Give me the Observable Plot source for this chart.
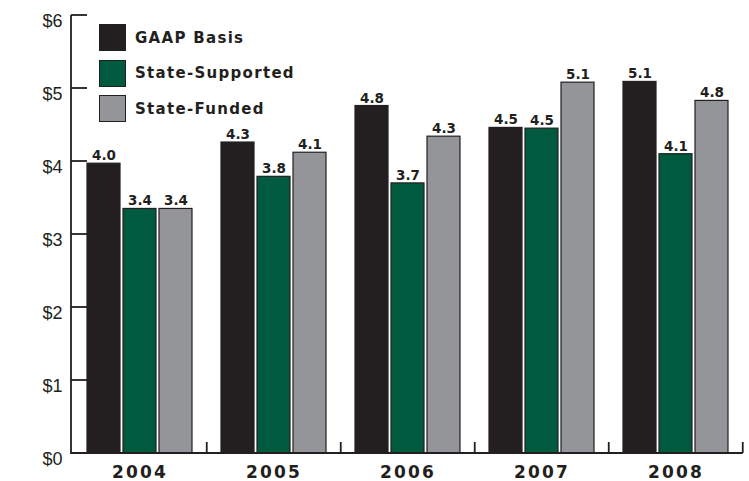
<!DOCTYPE html>
<html><head><meta charset="utf-8">
<script src="https://cdn.jsdelivr.net/npm/d3@7"></script>
<script src="https://cdn.jsdelivr.net/npm/@observablehq/plot@0.6"></script>
<style>
body{margin:0;background:#fff;}
#wrap{position:relative;width:749px;height:481px;}
#legend{position:absolute;left:99px;top:24px;font-family:"DejaVu Sans",sans-serif;font-weight:bold;font-size:15px;color:#231f20;letter-spacing:1.3px;}
.item{display:flex;align-items:center;height:27px;margin-bottom:8.5px;}
.sw{width:25px;height:25px;border:1px solid #231f20;margin-right:9px;box-sizing:content-box;}
g[aria-label="value labels"] text{letter-spacing:2px;}
g[aria-label="fx-axis tick label"] text{letter-spacing:2.2px;}
</style></head><body>
<div id="wrap"><div id="chart"></div><div id="legend"></div></div>
<script>
const years = ["2004", "2005", "2006", "2007", "2008"];
const seriesNames = ["GAAP Basis", "State-Supported", "State-Funded"];
const seriesColors = ["#231f20", "#005a3e", "#939598"];
const gaap = [3.97, 4.26, 4.76, 4.46, 5.09];
const stateSupported = [3.35, 3.79, 3.70, 4.45, 4.10];
const stateFunded = [3.35, 4.12, 4.34, 5.08, 4.83];
const gaapLabels = ["4.0", "4.3", "4.8", "4.5", "5.1"];
const stateSupportedLabels = ["3.4", "3.8", "3.7", "4.5", "4.1"];
const stateFundedLabels = ["3.4", "4.1", "4.3", "5.1", "4.8"];
const yTicks = [0, 1, 2, 3, 4, 5, 6];

const ink = "#231f20";
const seriesValues = [gaap, stateSupported, stateFunded];
const seriesLabels = [gaapLabels, stateSupportedLabels, stateFundedLabels];
const data = years.flatMap((yr, i) => seriesNames.map((s, k) => ({
  year: yr, series: s, value: seriesValues[k][i], label: seriesLabels[k][i]
})));

const chart = Plot.plot({
  width: 749, height: 481,
  marginLeft: 72, marginRight: 6.5, marginTop: 15, marginBottom: 28,
  fx: {domain: years, paddingInner: 0.22, paddingOuter: 0.11, label: null},
  x: {domain: seriesNames, paddingInner: 0.09, paddingOuter: 0, axis: null},
  y: {domain: [0, 6], axis: null},
  color: {domain: seriesNames, range: seriesColors},
  style: {fontFamily: "DejaVu Sans, sans-serif", color: ink, background: "#fff"},
  marks: [
    Plot.barY(data, {fx: "year", x: "series", y: "value", fill: "series", stroke: ink, strokeWidth: 1.2}),
    Plot.text(data, {fx: "year", x: "series", y: "value", text: "label", lineAnchor: "bottom", dy: -3.5,
      fontSize: 13.5, fontWeight: "bold", fill: ink, ariaLabel: "value labels"}),
    Plot.axisY(yTicks, {tickSize: 0, tickPadding: 25, dy: 6, tickFormat: d => "$" + d, fontSize: 18,
      fontFamily: "Liberation Sans, Arial, sans-serif", fill: ink, label: null}),
    Plot.axisFx({anchor: "bottom", tickSize: 0, tickPadding: 12, fontSize: 17, fontWeight: "bold", label: null, fill: ink})
  ]
});
document.getElementById("chart").appendChild(chart);

// axis frame drawn from the library's scales
const fx = chart.scale("fx"), y = chart.scale("y");
const svg = d3.select(chart);
const g = svg.append("g").attr("stroke", ink).attr("stroke-width", 1.8).attr("fill", "none");
const x0 = fx.range[0] - 1;
const y0 = y.apply(0);
const lastEdge = fx.apply(years[years.length - 1]) + fx.bandwidth + fx.step * fx.paddingInner / 2;
g.append("line").attr("x1", x0).attr("x2", x0).attr("y1", y.apply(6)).attr("y2", y0 + 0.9);
yTicks.filter(t => t > 0).forEach(t => {
  g.append("line").attr("x1", x0).attr("x2", x0 + 16).attr("y1", y.apply(t)).attr("y2", y.apply(t));
});
g.append("line").attr("x1", x0).attr("x2", lastEdge).attr("y1", y0).attr("y2", y0);
years.forEach(yr => {
  const xb = fx.apply(yr) + fx.bandwidth + fx.step * fx.paddingInner / 2;
  g.append("line").attr("x1", xb).attr("x2", xb).attr("y1", y0).attr("y2", y0 - 11);
});

// legend overlay
const legend = d3.select("#legend");
seriesNames.forEach((s, k) => {
  const it = legend.append("div").attr("class", "item");
  it.append("div").attr("class", "sw").style("background", seriesColors[k]);
  it.append("span").text(s);
});
</script>
</body></html>
